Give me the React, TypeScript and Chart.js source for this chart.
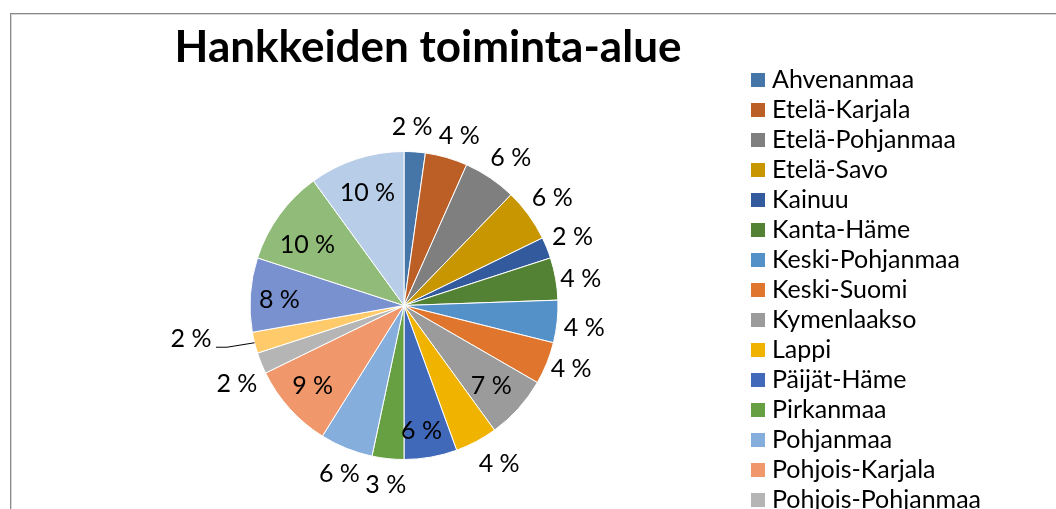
import React, { useEffect, useRef } from "react";
import { Chart, registerables } from "chart.js";

Chart.register(...registerables);

const titleText = "Hankkeiden toiminta-alue";

const regions = [
  "Ahvenanmaa",
  "Etelä-Karjala",
  "Etelä-Pohjanmaa",
  "Etelä-Savo",
  "Kainuu",
  "Kanta-Häme",
  "Keski-Pohjanmaa",
  "Keski-Suomi",
  "Kymenlaakso",
  "Lappi",
  "Päijät-Häme",
  "Pirkanmaa",
  "Pohjanmaa",
  "Pohjois-Karjala",
  "Pohjois-Pohjanmaa",
  "Pohjois-Savo",
  "Satakunta",
  "Uusimaa",
  "Varsinais-Suomi",
];

const projectCounts = [2, 4, 5, 5, 2, 4, 4, 4, 6, 4, 5, 3, 5, 8, 2, 2, 7, 9, 9];

const sliceColors = [
  "#4676A8",
  "#BB5F26",
  "#7F7F7F",
  "#C79600",
  "#335A9C",
  "#548235",
  "#5591C9",
  "#E0752D",
  "#9B9B9B",
  "#F0B300",
  "#4169BA",
  "#67A043",
  "#85AEDC",
  "#F0986C",
  "#B5B5B5",
  "#FFCB6A",
  "#7991CF",
  "#91BB78",
  "#B8CDE8",
];

// label placement style (relative to each slice): radial factor of outer radius, angle nudge in degrees
const labelRadial = [1.16, 1.16, 1.18, 1.19, 1.18, 1.16, 1.18, 1.16, 0.77, 1.2, 0.82, 1.17, 1.17, 0.79, 1.2, 1.4, 0.81, 0.74, 0.77];
const labelNudgeDeg = [-1.4, 2, 2, 0, 0, 1.6, 1.2, -1.3, 0.6, -3, 2, -0.2, -1, 0.7, -3.3, 5, -1.3, -4, 0];
const leaderLineIndex = 15;

const FONT = "Lato, 'Open Sans', sans-serif";
const LABEL_SIZE = 25;

const overlayPlugin = {
  id: "overlay",
  beforeDraw(chart: any) {
    const ctx = chart.ctx;
    ctx.save();
    ctx.fillStyle = "#ffffff";
    ctx.fillRect(0, 0, chart.width, chart.height);
    // chart frame
    ctx.fillStyle = "#8a8a8a";
    ctx.fillRect(10, 13, chart.width - 10, 1);
    ctx.fillRect(10, 13, 1, chart.height - 13);
    ctx.fillStyle = "#d6d6d6";
    ctx.fillRect(11, 14, chart.width - 11, 1);
    ctx.fillRect(11, 14, 1, chart.height - 14);
    ctx.restore();
  },
  afterDatasetsDraw(chart: any) {
    const ctx = chart.ctx;
    const meta = chart.getDatasetMeta(0);
    const values: number[] = chart.data.datasets[0].data;
    const total = values.reduce((a, b) => a + b, 0);
    ctx.save();
    ctx.font = `${LABEL_SIZE}px ${FONT}`;
    ctx.fillStyle = "#000000";
    ctx.textAlign = "center";
    ctx.textBaseline = "alphabetic";
    meta.data.forEach((arc: any, i: number) => {
      const p = arc.getProps(["x", "y", "startAngle", "endAngle", "outerRadius"], true);
      const mid0 = (p.startAngle + p.endAngle) / 2;
      const mid = mid0 + (labelNudgeDeg[i] * Math.PI) / 180;
      const r = p.outerRadius * labelRadial[i];
      const lx = p.x + Math.cos(mid) * r;
      const ly = p.y + Math.sin(mid) * r;
      const text = `${Math.round((values[i] / total) * 100)} %`;
      ctx.fillText(text, lx, ly + 8);
      if (i === leaderLineIndex) {
        const ex = p.x + Math.cos(mid0) * p.outerRadius;
        const ey = p.y + Math.sin(mid0) * p.outerRadius;
        ctx.strokeStyle = "#000000";
        ctx.lineWidth = 1;
        ctx.beginPath();
        ctx.moveTo(lx + 25, ly + 8);
        ctx.lineTo(lx + 36, ly + 8);
        ctx.lineTo(ex, ey);
        ctx.stroke();
      }
    });
    ctx.restore();
  },
  afterDraw(chart: any) {
    const ctx = chart.ctx;
    ctx.save();
    // title
    ctx.fillStyle = "#000000";
    ctx.font = `bold 44px ${FONT}`;
    ctx.textAlign = "center";
    ctx.textBaseline = "alphabetic";
    ctx.fillText(titleText, 428, 62);
    // legend
    ctx.font = `${LABEL_SIZE}px ${FONT}`;
    ctx.textAlign = "left";
    regions.forEach((name, i) => {
      const rowY = 80.3 + i * 30;
      ctx.fillStyle = sliceColors[i];
      ctx.fillRect(751, Math.round(rowY - 7), 14, 14);
      ctx.fillStyle = "#000000";
      ctx.fillText(name, 772, rowY + 8);
    });
    ctx.restore();
  },
};

export default function App() {
  const canvasRef = useRef<HTMLCanvasElement | null>(null);

  useEffect(() => {
    if (!canvasRef.current) return;
    const chart = new Chart(canvasRef.current, {
      type: "pie",
      data: {
        labels: regions,
        datasets: [
          {
            data: projectCounts,
            backgroundColor: sliceColors,
            borderColor: "#ffffff",
            borderWidth: 1,
            hoverOffset: 0,
          },
        ],
      },
      options: {
        responsive: false,
        maintainAspectRatio: false,
        devicePixelRatio: 1,
        animation: false,
        radius: 154,
        layout: { padding: { left: 100, right: 348, top: 102, bottom: 0 } },
        plugins: {
          legend: { display: false },
          title: { display: false },
          tooltip: { enabled: false },
        },
        events: [],
      } as any,
      plugins: [overlayPlugin],
    });
    return () => chart.destroy();
  }, []);

  return (
    <div style={{ position: "fixed", left: 0, top: 0, width: 1056, height: 509, background: "#fff" }}>
      <canvas ref={canvasRef} width={1056} height={509} style={{ display: "block", width: 1056, height: 509 }} />
    </div>
  );
}
